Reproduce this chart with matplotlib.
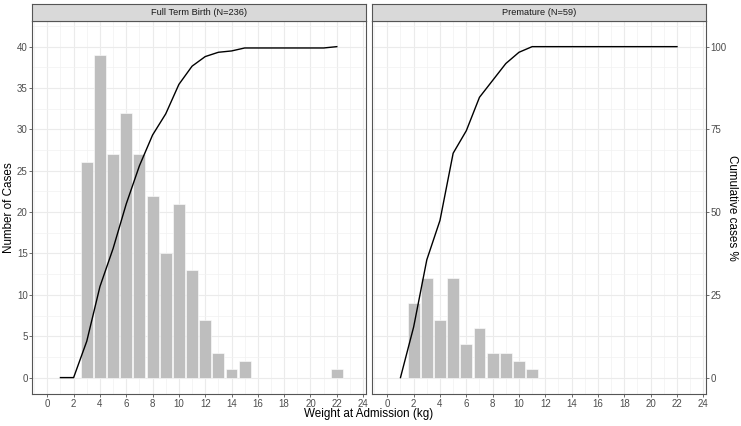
import matplotlib
matplotlib.use("Agg")
import matplotlib.pyplot as plt
from matplotlib.ticker import MultipleLocator

plt.rcParams['font.family'] = ['Liberation Sans', 'DejaVu Sans']

# weight bins (kg) and case counts
full_term_weights = [3, 4, 5, 6, 7, 8, 9, 10, 11, 12, 13, 14, 15, 22]
full_term_counts = [26, 39, 27, 32, 27, 22, 15, 21, 13, 7, 3, 1, 2, 1]

premature_weights = [2, 3, 4, 5, 6, 7, 8, 9, 10, 11]
premature_counts = [9, 12, 7, 12, 4, 6, 3, 3, 2, 1]

# cumulative cases % line
cum_weights = list(range(1, 23))
full_term_cum_pct = [0, 0, 11.0, 27.5, 39.0, 52.5, 64.0, 73.3, 79.7, 88.6, 94.1,
                     97.0, 98.3, 98.7, 99.6, 99.6, 99.6, 99.6, 99.6, 99.6, 99.6, 100]
premature_cum_pct = [0, 15.3, 35.6, 47.5, 67.8, 74.6, 84.7, 89.8, 94.9, 98.3, 100,
                     100, 100, 100, 100, 100, 100, 100, 100, 100, 100, 100]

panel_titles = ["Full Term Birth (N=236)", "Premature (N=59)"]
x_ticks = list(range(0, 25, 2))
y_ticks = list(range(0, 41, 5))
pct_ticks = [0, 25, 50, 75, 100]

SCALE = 100 / 40  # percent per case on the secondary axis
BORDER = "#555555"
TICK_TXT = "#4D4D4D"
TICK_FS = 7.0
TITLE_FS = 8.4

fig = plt.figure(figsize=(7.41, 4.26), dpi=100)

W, H = 741, 426
panels = [(32.3, 365.5), (372.3, 705.7)]
top_px, bottom_px, strip_top_px = 21, 394.3, 3.5

data = [(full_term_weights, full_term_counts, full_term_cum_pct),
        (premature_weights, premature_counts, premature_cum_pct)]

for i, ((x0, x1), (wts, cnts, cum), title) in enumerate(zip(panels, data, panel_titles)):
    ax = fig.add_axes([x0 / W, 1 - bottom_px / H, (x1 - x0) / W, (bottom_px - top_px) / H])
    ax.bar(wts, cnts, width=0.9, color="#BEBEBE", edgecolor="white", linewidth=0.4, zorder=2)
    ax.plot(cum_weights, [v / SCALE for v in cum], color="black", lw=1.0, zorder=3)

    ax.set_xlim(-1.14, 24.18)
    ax.set_ylim(-2.02, 43.1)
    ax.set_xticks(x_ticks)
    ax.set_yticks(y_ticks)
    ax.xaxis.set_minor_locator(MultipleLocator(1))
    ax.yaxis.set_minor_locator(MultipleLocator(2.5))
    ax.grid(which="major", color="#EBEBEB", lw=0.8, zorder=0)
    ax.grid(which="minor", color="#F2F2F2", lw=0.5, zorder=0)
    ax.set_axisbelow(True)
    ax.tick_params(which="minor", length=0)
    ax.tick_params(which="major", length=2.2, width=0.6, color=BORDER,
                   labelsize=TICK_FS, labelcolor=TICK_TXT, pad=1.2)
    for sp in ax.spines.values():
        sp.set_color(BORDER)
        sp.set_linewidth(0.8)

    if i == 1:
        ax.tick_params(axis="y", left=False, labelleft=False)
        sec = ax.secondary_yaxis("right", functions=(lambda y: y * SCALE, lambda y: y / SCALE))
        sec.set_yticks(pct_ticks)
        sec.tick_params(length=2.2, width=0.6, color=BORDER, labelsize=TICK_FS,
                        labelcolor=TICK_TXT, pad=1.2)
        sec.spines["right"].set_visible(False)

    # facet strip
    sax = fig.add_axes([x0 / W, 1 - top_px / H, (x1 - x0) / W, (top_px - strip_top_px) / H])
    sax.set_facecolor("#D9D9D9")
    sax.set_xticks([])
    sax.set_yticks([])
    for sp in sax.spines.values():
        sp.set_color(BORDER)
        sp.set_linewidth(0.8)
    sax.text(0.5, 0.5, title, ha="center", va="center", fontsize=6.7,
             color="#1A1A1A", transform=sax.transAxes)

mid_y = 1 - (top_px + bottom_px) / 2 / H
fig.text(9.5 / W, mid_y, "Number of Cases", rotation=90, ha="center", va="center",
         fontsize=TITLE_FS)
fig.text(732 / W, mid_y, "Cumulative cases %", rotation=270, ha="center", va="center",
         fontsize=TITLE_FS)
fig.text(369 / W, 1 - 417.5 / H, "Weight at Admission (kg)", ha="center", va="baseline",
         fontsize=TITLE_FS)

fig.savefig("out.png", dpi=100)
